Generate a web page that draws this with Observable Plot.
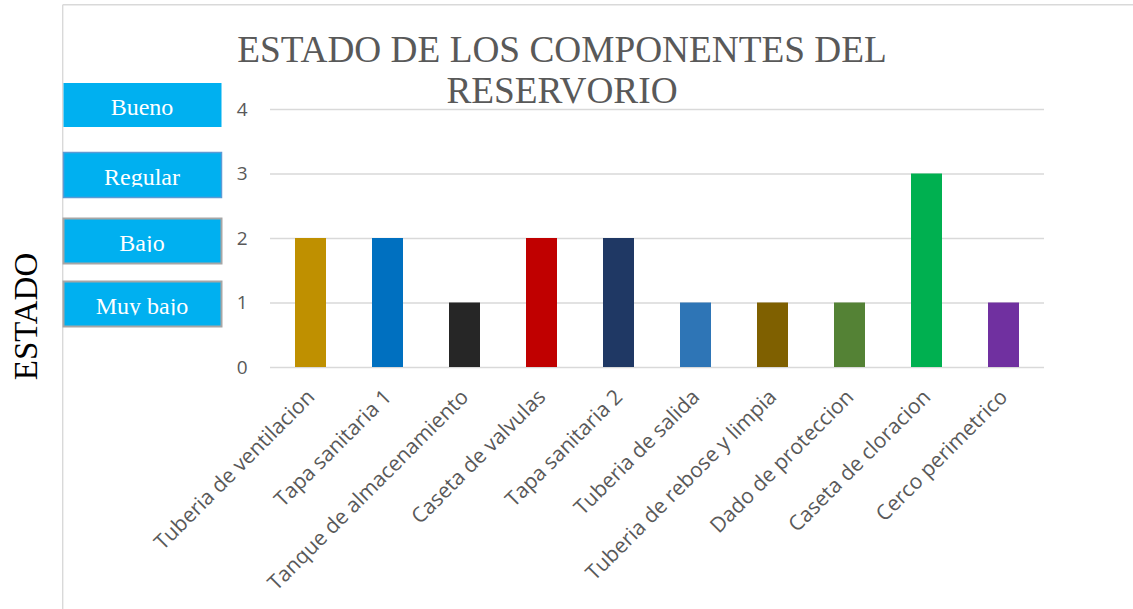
<!DOCTYPE html>
<html>
<head>
<meta charset="utf-8">
<script src="https://cdn.jsdelivr.net/npm/d3@7"></script>
<script src="https://cdn.jsdelivr.net/npm/@observablehq/plot@0.6"></script>
<style>
  html, body { margin: 0; padding: 0; background: #fff; }
  #wrap { position: relative; width: 1133px; height: 609px; overflow: hidden; }
  #wrap > svg { position: absolute; left: 0; top: 0; }
</style>
</head>
<body>
<div id="wrap"></div>
<script>
const categories = [
  "Tuberia de ventilacion", "Tapa sanitaria 1", "Tanque de almacenamiento",
  "Caseta de valvulas", "Tapa sanitaria 2", "Tuberia de salida",
  "Tuberia de rebose y limpia", "Dado de proteccion", "Caseta de cloracion",
  "Cerco perimetrico"
];
const values = [2, 2, 1, 2, 2, 1, 1, 1, 3, 1];
const barColors = ["#BF9000", "#0070C0", "#262626", "#C00000", "#1F3864",
                   "#2E75B6", "#7F6000", "#548235", "#00B050", "#7030A0"];
const yTicks = [0, 1, 2, 3, 4];
const legendLabels = ["Bueno", "Regular", "Bajo", "Muy bajo"];
const titleLines = ["ESTADO DE LOS COMPONENTES DEL", "RESERVORIO"];
const yLabel = "ESTADO";

const data = categories.map((c, i) => ({cat: c, value: values[i], color: barColors[i]}));

const wrap = document.getElementById("wrap");
const ns = "http://www.w3.org/2000/svg";

const bg = document.createElementNS(ns, "svg");
bg.setAttribute("width", 1133); bg.setAttribute("height", 609);
bg.innerHTML = `
  <line x1="62.7" y1="4.7" x2="1133" y2="4.7" stroke="#D9D9D9" stroke-width="1.4"/>
  <line x1="62.7" y1="4.7" x2="62.7" y2="609" stroke="#D9D9D9" stroke-width="1.4"/>
`;
wrap.appendChild(bg);

const chart = Plot.plot({
  width: 1133,
  height: 609,
  marginLeft: 270,
  marginRight: 89,
  marginTop: 109,
  marginBottom: 242,
  style: {background: "transparent", fontFamily: "'Open Sans', sans-serif", color: "#595959"},
  x: {domain: categories, paddingInner: 0.6, paddingOuter: 0.3, label: null},
  y: {domain: [0, 4], label: null},
  color: {type: "identity"},
  marks: [
    Plot.gridY(yTicks, {stroke: "#D9D9D9", strokeOpacity: 1, strokeWidth: 1.5}),
    Plot.barY(data, {x: "cat", y: "value", fill: "color"}),
    Plot.axisY(yTicks, {tickSize: 0, tickPadding: 23, fontSize: 19, fill: "#595959", tickFormat: d => String(d), label: null}),
    Plot.axisX({tickRotate: -45, tickSize: 0, tickPadding: 26, dx: 0, fontSize: 21, fill: "#595959", label: null})
  ]
});
wrap.appendChild(chart);

const ov = document.createElementNS(ns, "svg");
ov.setAttribute("width", 1133); ov.setAttribute("height", 609);
const serif = "'Liberation Serif', 'Times New Roman', serif";
const boxes = [
  {y: 83, h: 44, stroke: "none", sw: 0, base: 115, clip: 127},
  {y: 152.5, h: 45, stroke: "#5B9BD5", sw: 1.5, base: 185, clip: 186.8},
  {y: 218.5, h: 45, stroke: "#A6A6A6", sw: 2, base: 251, clip: 252},
  {y: 281.5, h: 45, stroke: "#A6A6A6", sw: 2, base: 314, clip: 315.2}
];
let html = `<defs>`;
boxes.forEach((b, i) => {
  html += `<clipPath id="clip${i}"><rect x="63" y="${b.y}" width="159" height="${b.clip - b.y}"/></clipPath>`;
});
html += `</defs>`;
html += `<text x="562" y="62" text-anchor="middle" font-family="${serif}" font-size="37.3" fill="#595959">${titleLines[0]}</text>`;
html += `<text x="562" y="103" text-anchor="middle" font-family="${serif}" font-size="37.3" fill="#595959">${titleLines[1]}</text>`;
html += `<text transform="translate(36.5,316.5) rotate(-90)" text-anchor="middle" font-family="${serif}" font-size="33" fill="#000">${yLabel}</text>`;
boxes.forEach((b, i) => {
  html += `<rect x="63.5" y="${b.y}" width="158" height="${b.h}" fill="#00B0F0" stroke="${b.stroke}" stroke-width="${b.sw}"/>`;
  html += `<text x="142" y="${b.base}" text-anchor="middle" font-family="${serif}" font-size="24" fill="#fff" clip-path="url(#clip${i})">${legendLabels[i]}</text>`;
});
ov.innerHTML = html;
wrap.appendChild(ov);
</script>
</body>
</html>
